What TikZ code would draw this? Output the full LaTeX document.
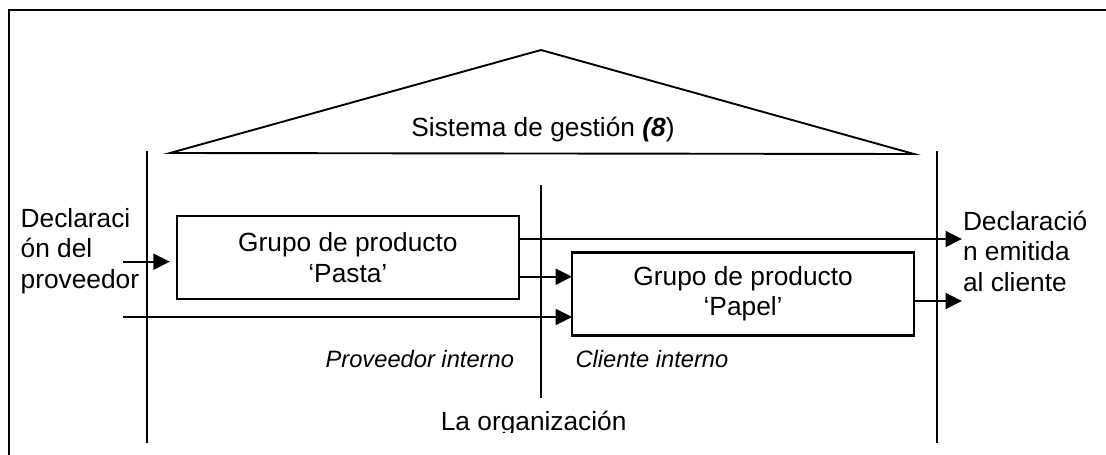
\documentclass[tikz,border=0pt]{standalone}
\usepackage{fontspec}
\setmainfont{Liberation Sans}
\usetikzlibrary{arrows.meta}
\newcommand\mainsz{\fontsize{26.3}{30.5}\selectfont}
\newcommand\italsz{\fontsize{23.7}{28}\selectfont\itshape}
\begin{document}
\begin{tikzpicture}[x=1pt,y=-1pt,
  every node/.style={inner sep=0pt, outer sep=0pt},
  ln/.style={line width=1.9pt},
  box/.style={draw, line width=2.2pt, minimum width=342pt, minimum height=83pt, align=center, font=\mainsz},
  arr/.style={line width=1.9pt, -{Triangle[length=16.5pt,width=16pt]}},
  lbl/.style={font=\mainsz},
  ital/.style={font=\italsz}]
\clip (0,0) rectangle (1106,455);
\fill[white] (0,0) rectangle (1106,455);
% outer frame (cut by the picture's right and bottom edges)
\draw[ln] (1120,10) -- (9,10) -- (9,470);
% roof
\draw[ln, line join=miter] (170,153) -- (541,50) -- (914,154) -- cycle;
\node[lbl, anchor=base] (sis) at (543,136.7) {Sistema de gestión \textbf{\textit{(8}})};
% walls
\draw[ln] (146.7,151) -- (146.7,443);
\draw[ln] (541,185) -- (541,398);
\draw[ln] (937.3,151) -- (937.3,443);
% boxes
\node[box] (pasta) at (347.85,257.5) {Grupo de producto\\‘Pasta’};
\node[box] (papel) at (743.1,293.9) {Grupo de producto\\‘Papel’};
% side texts
\node[lbl, anchor=north west, align=left] (decl) at (20.7,208.4) {Declaraci\\ón del\\proveedor};
\node[lbl, anchor=north west, align=left] (emit) at (963,210.8) {Declaració\\n emitida\\al cliente};
\node[ital, anchor=base east] (provint) at (514,367) {Proveedor interno};
\node[ital, anchor=base west] (clint) at (575.5,367) {Cliente interno};
\begin{scope}
\clip (300,380) rectangle (800,432.5);
\node[lbl, anchor=base] (org) at (533.7,430) {La organización};
\end{scope}
% arrows
\coordinate (inA) at (123,261.7);
\coordinate (inB) at (123,317);
\coordinate (outA) at (962,239);
\coordinate (outB) at (962,301);
\draw[arr] (inA) -- ([xshift=-7pt]inA -| pasta.west);
\draw[arr] (inB) -- (inB -| papel.west);
\draw[arr] ([yshift=-19.2pt]pasta.east) -- ([yshift=-19.2pt]pasta.east -| papel.west);
\draw[arr] ([yshift=18.5pt]pasta.east) -- (outA);
\draw[arr] ([yshift=-7.1pt]papel.east) -- (outB);
\end{tikzpicture}
\end{document}
